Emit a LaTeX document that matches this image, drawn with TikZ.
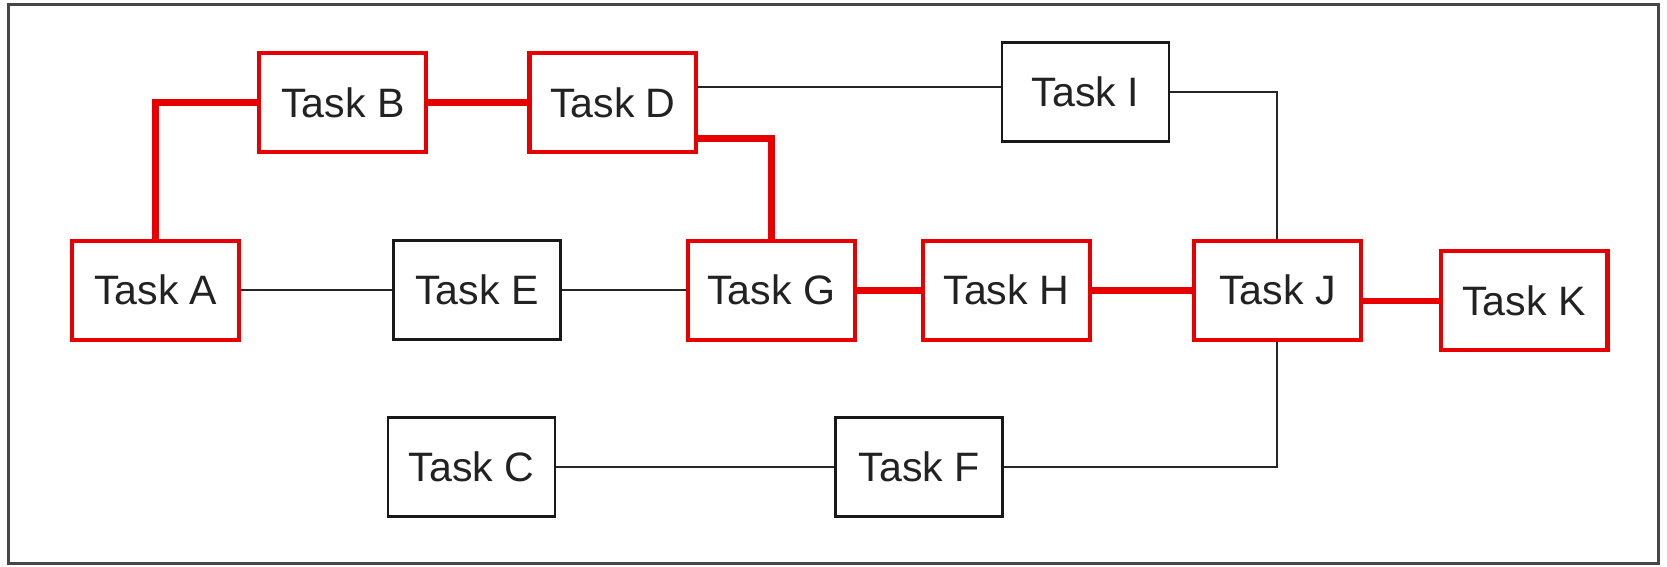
\documentclass[tikz,border=0pt]{standalone}
\usepackage{fontspec}
\setmainfont{Liberation Sans}
\definecolor{crit}{RGB}{232,0,0}
\definecolor{frame}{RGB}{70,70,70}
\definecolor{txt}{RGB}{34,34,34}
\begin{document}
\begin{tikzpicture}[x=0.1mm,y=-0.1mm,
  task/.style={draw=black!90,line width=0.75pt,minimum width=15.7mm,minimum height=9.3mm,inner sep=0pt,
    font=\fontsize{11}{13}\selectfont,text=txt,fill=white},
  crittask/.style={task,draw=crit,line width=1.1pt},
  link/.style={draw=black!85,line width=0.6pt},
  critlink/.style={draw=crit,line width=1.8pt}]
\useasboundingbox (0,0) rectangle (1568,533);
\draw[frame,line width=0.8pt] (8,4) rectangle (1560,530);
% nodes
\node[crittask] (B) at (322.5,96.5) {Task B};
\node[crittask] (D) at (576.5,96.5) {Task D};
\node[task] (I) at (1021,86.5) {Task I};
\node[crittask] (A) at (146.5,273) {Task A};
\node[task] (E) at (448.5,273) {Task E};
\node[crittask] (G) at (725.5,273) {Task G};
\node[crittask] (H) at (946.5,273) {Task H};
\node[crittask] (J) at (1201.5,273) {Task J};
\node[crittask] (K) at (1433.5,283) {Task K};
\node[task] (C) at (443.5,439.5) {Task C};
\node[task] (F) at (864.5,439.5) {Task F};
\coordinate (dgo) at ([yshift=-3.4mm]D.east);
\coordinate (dio) at ([yshift=1.5mm]D.east);
% black links
\draw[link] (A.east) -- (E.west);
\draw[link] (E.east) -- (G.west);
\draw[link] (dio) -- (dio -| I.west);
\draw[link] (I.east) -| (J.north);
\draw[link] (C.east) -- (F.west);
\draw[link] (F.east) -| (J.south);
% critical links
\draw[critlink] (A.north) |- (B.west);
\draw[critlink] (B.east) -- (D.west);
\draw[critlink] (dgo) -| (G.north);
\draw[critlink] (G.east) -- (H.west);
\draw[critlink] (H.east) -- (J.west);
\draw[critlink] (J.east |- K.west) -- (K.west);
\end{tikzpicture}
\end{document}
